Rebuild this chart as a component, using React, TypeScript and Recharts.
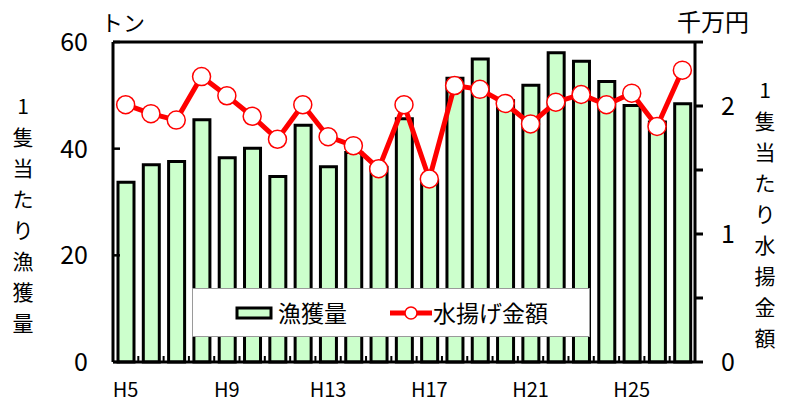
import React from 'react';
import { ComposedChart, Bar, Line, XAxis, YAxis, Legend, ReferenceLine } from 'recharts';

const years = ['H5', 'H6', 'H7', 'H8', 'H9', 'H10', 'H11', 'H12', 'H13', 'H14', 'H15', 'H16', 'H17', 'H18', 'H19', 'H20', 'H21', 'H22', 'H23', 'H24', 'H25', 'H26', 'H27'];
const catchPerBoat = [33.7, 37.0, 37.6, 45.4, 38.3, 40.1, 34.8, 44.4, 36.6, 39.3, 36.5, 45.6, 34.0, 53.2, 56.8, 49.0, 51.9, 58.0, 56.4, 52.6, 48.1, 45.0, 48.4];
const landingValue = [2.01, 1.94, 1.89, 2.23, 2.08, 1.92, 1.74, 2.01, 1.76, 1.69, 1.51, 2.01, 1.43, 2.16, 2.13, 2.02, 1.86, 2.03, 2.09, 2.01, 2.10, 1.84, 2.28];
const leftTicks = [0, 20, 40, 60];
const rightTicks = [0, 0.5, 1, 1.5, 2, 2.5];
const xLabelEvery = 4;

const barName = '漁獲量';
const lineName = '水揚げ金額';
const leftUnit = 'トン';
const rightUnit = '千万円';
const leftTitle = ['1', '隻', '当', 'た', 'り', '漁', '獲', '量'];
const rightTitle = ['1', '隻', '当', 'た', 'り', '水', '揚', '金', '額'];

const data = years.map((y, i) => ({ year: y, catch: catchPerBoat[i], value: landingValue[i] }));

const W = 792;
const H = 403;
const LEFT_W = 113;
const RIGHT_W = 97;
const TOP = 42;
const X_H = 41;
const PLOT_W = W - LEFT_W - RIGHT_W;
const BAND = PLOT_W / years.length;
const FONT = '"Noto Sans CJK JP", "Noto Sans", sans-serif';

const LeftTick = (props: any) => {
  const { x, y, payload } = props;
  return (
    <g>
      <line x1={x} x2={x + 7} y1={y} y2={y} stroke="#000" strokeWidth={2.5} />
      <text x={x - 25} y={y} dy="0.36em" textAnchor="end" fontSize={25} fill="#000" fontFamily={FONT}>
        {payload.value}
      </text>
    </g>
  );
};

const RightTick = (props: any) => {
  const { x, y, payload } = props;
  if (!Number.isInteger(payload.value)) return <g />;
  return (
    <text x={x} y={y} dy="0.36em" textAnchor="start" fontSize={25} fill="#000" fontFamily={FONT}>
      {payload.value}
    </text>
  );
};

const XTick = (props: any) => {
  const { x, y, payload } = props;
  const idx = payload.index ?? props.index ?? 0;
  return (
    <g>
      {idx > 0 && (
        <line x1={x - BAND / 2} x2={x - BAND / 2} y1={y} y2={y - 6} stroke="#000" strokeWidth={2} />
      )}
      {idx % xLabelEvery === 0 && (
        <text x={x} y={y + 35} textAnchor="middle" fontSize={20} fill="#000" fontFamily={FONT}>
          {payload.value}
        </text>
      )}
    </g>
  );
};

const LegendBox = () => (
  <div
    style={{
      width: 396,
      height: 47,
      border: '1px solid #9a9a9a',
      background: '#fff',
      position: 'relative',
      fontFamily: FONT,
      fontSize: 23,
      color: '#000',
    }}
  >
    <svg width={396} height={47} style={{ position: 'absolute', left: 0, top: 0 }}>
      <rect x={44} y={19} width={34} height={10} fill="#CCFFCC" stroke="#000" strokeWidth={3} />
      <line x1={197} x2={239} y1={24} y2={24} stroke="#FF0000" strokeWidth={5} />
      <circle cx={218} cy={24} r={6} fill="#fff" stroke="#FF0000" strokeWidth={1.5} />
    </svg>
    <div style={{ position: 'absolute', left: 85, top: 6, lineHeight: '34px' }}>{barName}</div>
    <div style={{ position: 'absolute', left: 240, top: 6, lineHeight: '34px' }}>{lineName}</div>
  </div>
);

const VerticalTitle = ({ chars, cx, firstCenter }: { chars: string[]; cx: number; firstCenter: number }) => (
  <div
    style={{
      position: 'absolute',
      left: cx - 16,
      top: firstCenter - 15.5,
      width: 32,
      textAlign: 'center',
      fontSize: 21,
      lineHeight: '31px',
      fontFamily: FONT,
      color: '#000',
    }}
  >
    {chars.map((c, i) => (
      <div key={i}>{c}</div>
    ))}
  </div>
);

export default function App() {
  return (
    <div style={{ position: 'absolute', left: 0, top: 0, width: W, height: H, background: '#fff', fontFamily: FONT }}>
      <ComposedChart width={W} height={H} data={data} margin={{ top: TOP, right: 0, bottom: 0, left: 0 }} style={{ fontFamily: FONT }}>
        <XAxis
          dataKey="year"
          height={X_H}
          interval={0}
          tickSize={0}
          tickMargin={0}
          tickLine={false}
          axisLine={{ stroke: '#000', strokeWidth: 3 }}
          tick={XTick}
        />
        <YAxis
          yAxisId="left"
          orientation="left"
          width={LEFT_W}
          domain={[0, 60]}
          ticks={leftTicks}
          tickSize={0}
          tickMargin={0}
          tickLine={false}
          axisLine={{ stroke: '#000', strokeWidth: 3 }}
          tick={LeftTick}
        />
        <YAxis
          yAxisId="right"
          orientation="right"
          width={RIGHT_W}
          domain={[0, 2.5]}
          ticks={rightTicks}
          tickSize={8}
          tickMargin={18}
          tickLine={{ stroke: '#000', strokeWidth: 3 }}
          axisLine={{ stroke: '#000', strokeWidth: 3 }}
          tick={RightTick}
        />
        <ReferenceLine yAxisId="left" y={60} stroke="#000" strokeWidth={3} />
        <Bar
          yAxisId="left"
          dataKey="catch"
          name={barName}
          fill="#CCFFCC"
          stroke="#000"
          strokeWidth={3}
          barSize={16}
          isAnimationActive={false}
        />
        <Line
          yAxisId="right"
          type="linear"
          dataKey="value"
          name={lineName}
          stroke="#FF0000"
          strokeWidth={5}
          dot={{ r: 9, fill: '#fff', stroke: '#FF0000', strokeWidth: 1.5 }}
          activeDot={false}
          isAnimationActive={false}
        />
        <Legend
          layout="horizontal"
          align="center"
          verticalAlign="middle"
          content={LegendBox}
          wrapperStyle={{ left: 192, top: 288, width: 398, height: 49 }}
        />
      </ComposedChart>
      <div style={{ position: 'absolute', left: 101, top: 5, fontSize: 22, lineHeight: '32px', color: '#000' }}>{leftUnit}</div>
      <div style={{ position: 'absolute', left: 677, top: 5, fontSize: 24, lineHeight: '32px', color: '#000' }}>{rightUnit}</div>
      <VerticalTitle chars={leftTitle} cx={23} firstCenter={105} />
      <VerticalTitle chars={rightTitle} cx={765} firstCenter={89} />
    </div>
  );
}
